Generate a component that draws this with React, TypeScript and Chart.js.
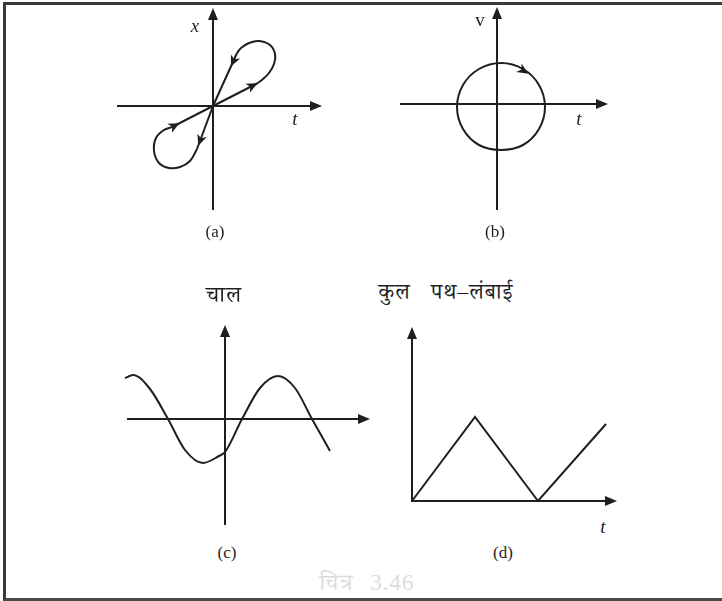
import React, { useEffect, useRef } from "react";
import { Chart, registerables } from "chart.js";

Chart.register(...registerables);

const INK = "#1f1f1f";

// ---------- Panel (a): x against t, figure-eight ----------
const aUpperShallow = [{ x: 0, y: 0 }, { x: 45, y: 23 }];
const aUpperLoop = [
  { x: 45, y: 23 }, { x: 50, y: 27 }, { x: 56, y: 33 }, { x: 61, y: 42 }, { x: 62, y: 52 },
  { x: 57, y: 61 }, { x: 46, y: 65 }, { x: 36, y: 63 }, { x: 28, y: 58 }, { x: 24, y: 53 },
];
const aUpperSteep = [{ x: 24, y: 53 }, { x: 0, y: 0 }];
const aLowerSteep = [{ x: 0, y: 0 }, { x: -16, y: -43 }];
const aLowerLoop = [
  { x: -16, y: -43 }, { x: -23, y: -55 }, { x: -33, y: -61 }, { x: -44, y: -62 }, { x: -54, y: -57 },
  { x: -59, y: -45 }, { x: -57, y: -32 }, { x: -49, y: -24 }, { x: -41, y: -21 },
];
const aLowerShallow = [{ x: -41, y: -21 }, { x: 0, y: 0 }];
const aArrowHeads = [
  { x: 40, y: 20.5, dx: 1, dy: 0.51 },
  { x: 20, y: 44, dx: -1, dy: -2.2 },
  { x: -13, y: -35, dx: -1, dy: -2.7 },
  { x: -38, y: -19.5, dx: 1, dy: 0.51 },
];

// ---------- Panel (b): v against t, circle ----------
const bCircle = [
  { x: 4, y: 41 }, { x: 26, y: 35 }, { x: 42, y: 19 }, { x: 48, y: -3 },
  { x: 42, y: -25 }, { x: 26, y: -41 }, { x: 4, y: -46 }, { x: -18, y: -41 },
  { x: -34, y: -25 }, { x: -40, y: -3 }, { x: -34, y: 19 }, { x: -18, y: 35 },
];
const bArrowHeads = [{ x: 27, y: 33, dx: 0.87, dy: -0.55 }];

// ---------- Panel (c): speed, wave ----------
const cWave = [
  { x: -100, y: 41 }, { x: -92, y: 44 }, { x: -75, y: 30 }, { x: -57, y: 0 }, { x: -40, y: -31 },
  { x: -22, y: -44 }, { x: -6, y: -37 }, { x: 0, y: -33 }, { x: 17, y: 0 }, { x: 35, y: 31 },
  { x: 53, y: 43 }, { x: 70, y: 31 }, { x: 87, y: 0 }, { x: 105, y: -32 },
];

// ---------- Panel (d): total path length, zig-zag ----------
const dPath = [{ x: 0, y: 0 }, { x: 63, y: 84 }, { x: 126, y: 0 }, { x: 194, y: 77 }];

// Sketch plugin: axes with arrow tips and arrowheads on curves
const sketchPlugin = {
  id: "sketch",
  afterDatasetsDraw(chart: any, _args: any, opts: any) {
    if (!opts) return;
    const ctx = chart.ctx;
    const xs = chart.scales.x;
    const ys = chart.scales.y;
    const P = (x: number, y: number) => [xs.getPixelForValue(x), ys.getPixelForValue(y)];
    ctx.save();
    ctx.strokeStyle = INK;
    ctx.fillStyle = INK;
    ctx.lineWidth = 2;
    ctx.lineCap = "butt";
    (opts.axes || []).forEach((a: any) => {
      const [x0, y0] = P(a.from[0], a.from[1]);
      const [x1, y1] = P(a.to[0], a.to[1]);
      const len = Math.hypot(x1 - x0, y1 - y0);
      const ux = (x1 - x0) / len;
      const uy = (y1 - y0) / len;
      const L = 12;
      const W = 5;
      ctx.beginPath();
      ctx.moveTo(x0, y0);
      ctx.lineTo(x1 - ux * (L - 2), y1 - uy * (L - 2));
      ctx.stroke();
      ctx.beginPath();
      ctx.moveTo(x1, y1);
      ctx.lineTo(x1 - ux * L - uy * W, y1 - uy * L + ux * W);
      ctx.lineTo(x1 - ux * L + uy * W, y1 - uy * L - ux * W);
      ctx.closePath();
      ctx.fill();
    });
    (opts.heads || []).forEach((h: any) => {
      const [x0, y0] = P(h.x, h.y);
      const [x1, y1] = P(h.x + h.dx, h.y + h.dy);
      const len = Math.hypot(x1 - x0, y1 - y0);
      const ux = (x1 - x0) / len;
      const uy = (y1 - y0) / len;
      const L = 11;
      const W = 5;
      const tx = x0 + ux * 5;
      const ty = y0 + uy * 5;
      ctx.beginPath();
      ctx.moveTo(tx, ty);
      ctx.lineTo(tx - ux * L - uy * W, ty - uy * L + ux * W);
      ctx.lineTo(tx - ux * (L - 3), ty - uy * (L - 3));
      ctx.lineTo(tx - ux * L + uy * W, ty - uy * L - ux * W);
      ctx.closePath();
      ctx.fill();
    });
    ctx.restore();
  },
};

function lineSet(data: any[], tension = 0, extra: any = {}) {
  return {
    data,
    showLine: true,
    tension,
    borderColor: INK,
    borderWidth: 2,
    pointRadius: 0,
    fill: false,
    ...extra,
  };
}

function makeConfig(datasets: any[], bounds: number[], sketch: any) {
  const [xmin, xmax, ymin, ymax] = bounds;
  return {
    type: "scatter",
    data: { datasets },
    options: {
      responsive: false,
      maintainAspectRatio: false,
      animation: false,
      layout: { padding: 0 },
      events: [],
      plugins: { legend: { display: false }, tooltip: { enabled: false }, title: { display: false }, sketch },
      scales: {
        x: { type: "linear", min: xmin, max: xmax, display: false },
        y: { type: "linear", min: ymin, max: ymax, display: false },
      },
    },
    plugins: [sketchPlugin],
  };
}

// closed circle: wrap two points on each side and hide the end segments
const circleWrapped = [bCircle[10], bCircle[11], ...bCircle, bCircle[0], bCircle[1]];
const circleLast = circleWrapped.length - 1;

const panels = [
  {
    left: 110, top: 0, w: 220, h: 215,
    config: () =>
      makeConfig(
        [
          lineSet(aUpperShallow),
          lineSet(aUpperLoop, 0.4),
          lineSet(aUpperSteep),
          lineSet(aLowerSteep),
          lineSet(aLowerLoop, 0.4),
          lineSet(aLowerShallow),
        ],
        [-103, 117, -109, 106],
        {
          axes: [
            { from: [-96, 0], to: [109, 0] },
            { from: [0, -104], to: [0, 98] },
          ],
          heads: aArrowHeads,
        }
      ),
  },
  {
    left: 390, top: 0, w: 230, h: 215,
    config: () =>
      makeConfig(
        [
          lineSet(circleWrapped, 0.4, {
            segment: {
              borderColor: (c: any) =>
                c.p0DataIndex === 0 || c.p1DataIndex === circleLast ? "rgba(0,0,0,0)" : INK,
            },
          }),
        ],
        [-107, 123, -111, 104],
        {
          axes: [
            { from: [-97, 0], to: [111, 0] },
            { from: [0, -106], to: [0, 97] },
          ],
          heads: bArrowHeads,
        }
      ),
  },
  {
    left: 115, top: 320, w: 265, h: 215,
    config: () =>
      makeConfig(
        [lineSet(cWave, 0.4, { cubicInterpolationMode: "monotone" })],
        [-110, 155, -116, 99],
        {
          axes: [
            { from: [-98, 0], to: [145, 0] },
            { from: [0, -106], to: [0, 94] },
          ],
          heads: [],
        }
      ),
  },
  {
    left: 400, top: 320, w: 225, h: 190,
    config: () =>
      makeConfig(
        [lineSet(dPath)],
        [-12, 213, -9, 181],
        {
          axes: [
            { from: [-1, 0], to: [205, 0] },
            { from: [0, -1], to: [0, 174] },
          ],
          heads: [],
        }
      ),
  },
];

const SERIF = '"Liberation Serif", "Times New Roman", "DejaVu Serif", serif';
const DEVA = '"Liberation Serif", "Noto Serif Devanagari", "Noto Sans Devanagari", "Lohit Devanagari", "FreeSerif", serif';

const labels = [
  { text: "x", x: 195, y: 25, size: 19, italic: true, font: SERIF, ws: 0, ls: 0 },
  { text: "t", x: 295, y: 118, size: 19, italic: true, font: SERIF, ws: 0, ls: 0 },
  { text: "(a)", x: 215, y: 231, size: 17, italic: false, font: SERIF, ws: 0, ls: 0 },
  { text: "v", x: 480, y: 19, size: 19, italic: false, font: SERIF, ws: 0, ls: 0 },
  { text: "t", x: 579, y: 118, size: 19, italic: true, font: SERIF, ws: 0, ls: 0 },
  { text: "(b)", x: 495, y: 231, size: 17, italic: false, font: SERIF, ws: 0, ls: 0 },
  { text: "चाल", x: 224, y: 294, size: 23, italic: false, font: DEVA, ws: 0, ls: 1 },
  { text: "(c)", x: 227, y: 552, size: 17, italic: false, font: SERIF, ws: 0, ls: 0 },
  { text: "कुल पथ–लंबाई", x: 446, y: 292, size: 22, italic: false, font: DEVA, ws: 14, ls: 1 },
  { text: "t", x: 603, y: 526, size: 19, italic: true, font: SERIF, ws: 0, ls: 0 },
  { text: "(d)", x: 503, y: 552, size: 17, italic: false, font: SERIF, ws: 0, ls: 0 },
];

function PanelCanvas({ spec }: { spec: any }) {
  const ref = useRef<HTMLCanvasElement>(null);
  useEffect(() => {
    const chart = new Chart(ref.current as HTMLCanvasElement, spec.config() as any);
    return () => chart.destroy();
  }, []);
  return (
    <canvas
      ref={ref}
      width={spec.w}
      height={spec.h}
      style={{ position: "absolute", left: spec.left, top: spec.top, width: spec.w, height: spec.h }}
    />
  );
}

export default function App() {
  return (
    <div
      style={{
        position: "fixed",
        left: 0,
        top: 0,
        width: 722,
        height: 601,
        background: "#ffffff",
        overflow: "hidden",
      }}
    >
      <div
        style={{
          position: "absolute",
          left: 3,
          top: 2,
          width: 740,
          height: 593,
          borderTop: "3px solid #3a3a3a",
          borderLeft: "3px solid #3a3a3a",
          borderBottom: "3px solid #4a4a4a",
        }}
      />
      {panels.map((p, i) => (
        <PanelCanvas key={i} spec={p} />
      ))}
      {labels.map((l, i) => (
        <div
          key={i}
          style={{
            position: "absolute",
            left: l.x,
            top: l.y,
            transform: "translate(-50%, -50%)",
            fontFamily: l.font,
            fontSize: l.size,
            fontStyle: l.italic ? "italic" : "normal",
            wordSpacing: l.ws,
            letterSpacing: l.ls,
            color: "#1f1f1f",
            whiteSpace: "nowrap",
            lineHeight: 1,
          }}
        >
          {l.text}
        </div>
      ))}
      <div
        style={{
          position: "absolute",
          left: 367,
          top: 582,
          transform: "translate(-50%, -50%)",
          fontFamily: DEVA,
          fontSize: 23,
          wordSpacing: 10,
          letterSpacing: 1,
          color: "#dcdcdc",
          whiteSpace: "nowrap",
          lineHeight: 1,
        }}
      >
        चित्र 3.46
      </div>
    </div>
  );
}
